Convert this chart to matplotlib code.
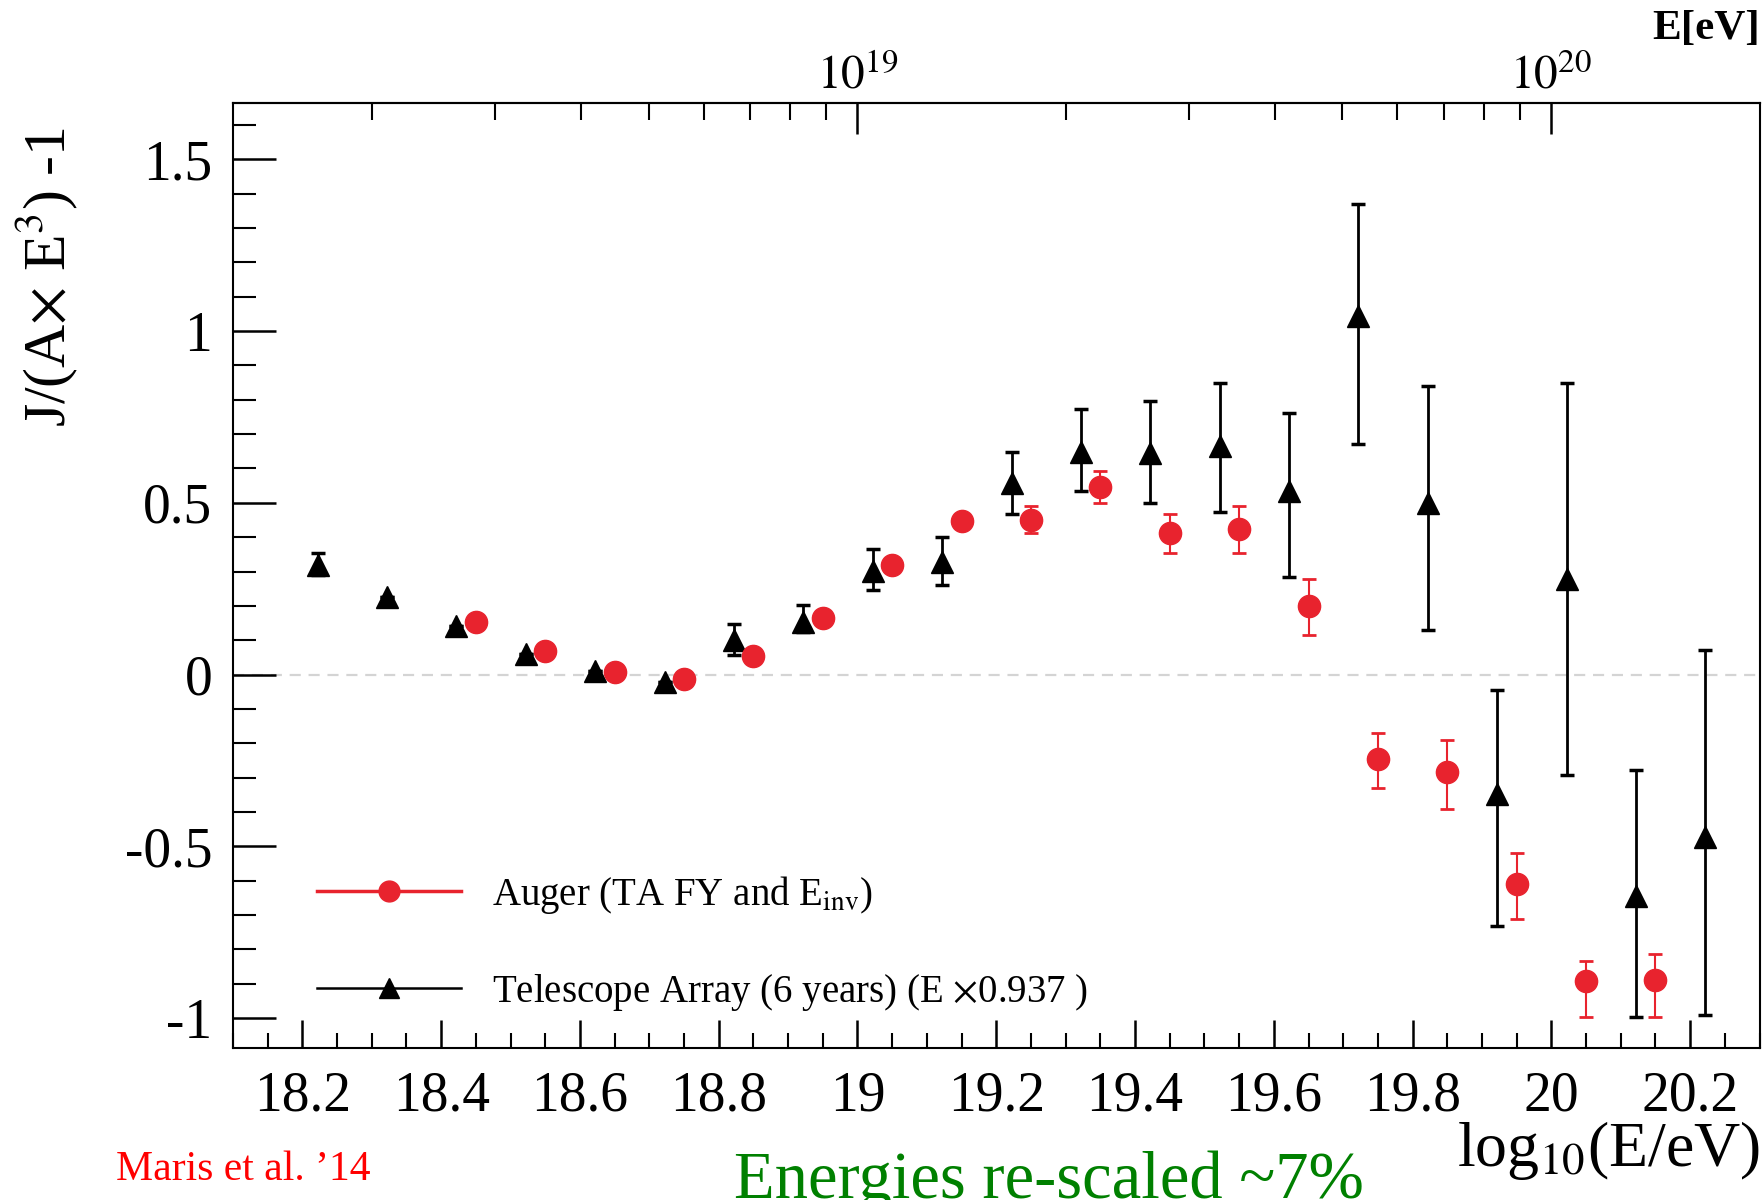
import numpy as np
import matplotlib.pyplot as plt
from matplotlib.lines import Line2D
from matplotlib.ticker import MultipleLocator, FixedLocator, FuncFormatter

plt.rcParams['font.family'] = ['Liberation Serif', 'DejaVu Serif']
plt.rcParams['mathtext.fontset'] = 'stix'
plt.rcParams['axes.unicode_minus'] = False

# Telescope Array (6 years), energies scaled by 0.937
ta_x = [18.222, 18.322, 18.422, 18.522, 18.622, 18.722, 18.822, 18.922, 19.022, 19.122, 19.222,
        19.322, 19.422, 19.522, 19.622, 19.722, 19.822, 19.922, 20.022, 20.122, 20.222]
ta_y = [0.319, 0.226, 0.141, 0.059, 0.011, -0.021, 0.102, 0.153, 0.302, 0.328, 0.557,
        0.649, 0.645, 0.664, 0.533, 1.043, 0.499, -0.347, 0.279, -0.644, -0.474]
ta_err_lo = [0.03, 0.0, 0.0, 0.0, 0.0, 0.0, 0.045, 0.03, 0.055, 0.066, 0.09,
             0.116, 0.146, 0.19, 0.248, 0.371, 0.368, 0.384, 0.571, 0.352, 0.517]
ta_err_hi = [0.035, 0.0, 0.0, 0.0, 0.0, 0.0, 0.045, 0.049, 0.063, 0.072, 0.092,
             0.124, 0.152, 0.185, 0.228, 0.326, 0.34, 0.303, 0.57, 0.365, 0.545]

# Auger (TA FY and E_inv)
auger_x = [18.45, 18.55, 18.65, 18.75, 18.85, 18.95, 19.05, 19.15, 19.25,
           19.35, 19.45, 19.55, 19.65, 19.75, 19.85, 19.95, 20.05, 20.15]
auger_y = [0.153, 0.069, 0.007, -0.012, 0.054, 0.166, 0.319, 0.447, 0.45,
           0.545, 0.411, 0.423, 0.199, -0.245, -0.284, -0.611, -0.892, -0.889]
auger_err_lo = [0.02, 0.02, 0.02, 0.02, 0.02, 0.02, 0.02, 0.02, 0.039,
                0.046, 0.058, 0.07, 0.084, 0.085, 0.107, 0.101, 0.104, 0.107]
auger_err_hi = [0.02, 0.02, 0.02, 0.02, 0.02, 0.02, 0.02, 0.02, 0.041,
                0.047, 0.057, 0.068, 0.079, 0.076, 0.094, 0.091, 0.059, 0.075]

# top axis: energies in eV
top_major_E = [1e19, 1e20]
top_major_labels = [r'$10^{19}$', r'$10^{20}$']
top_minor_E = [2e18, 3e18, 4e18, 5e18, 6e18, 7e18, 8e18, 9e18,
               2e19, 3e19, 4e19, 5e19, 6e19, 7e19, 8e19, 9e19]

red = '#e8232e'

fig = plt.figure(figsize=(17.65, 12), dpi=100)
ax = fig.add_axes([0.132, 0.1267, 0.8649, 0.7875])
ax.set_xlim(18.1, 20.3)
ax.set_ylim(-1.087, 1.664)

ax.axhline(0, color='#d4d4d4', lw=1.6, ls=(0, (5, 3.5)), zorder=0)

ax.errorbar(ta_x, ta_y, yerr=[ta_err_lo, ta_err_hi], fmt='^', color='black', ms=16,
            elinewidth=2, capsize=5, capthick=2.5, zorder=3)
ax.errorbar(auger_x, auger_y, yerr=[auger_err_lo, auger_err_hi], fmt='o', color=red, ms=16,
            elinewidth=1.5, capsize=5, capthick=2, zorder=4)

fmt = FuncFormatter(lambda v, p: f'{round(v, 2) + 0.0:g}')
ax.xaxis.set_major_locator(MultipleLocator(0.2))
ax.xaxis.set_minor_locator(MultipleLocator(0.05))
ax.xaxis.set_major_formatter(fmt)
ax.yaxis.set_major_locator(MultipleLocator(0.5))
ax.yaxis.set_minor_locator(MultipleLocator(0.1))
ax.yaxis.set_major_formatter(fmt)

ax.tick_params(axis='x', which='both', direction='in', top=False, bottom=True, labelsize=40, pad=16)
ax.tick_params(axis='x', which='major', length=20, width=1.8)
ax.tick_params(axis='x', which='minor', length=11, width=1.5)
ax.tick_params(axis='y', which='both', direction='in', left=True, right=False, labelsize=40, pad=15)
ax.tick_params(axis='y', which='major', length=31, width=1.8)
ax.tick_params(axis='y', which='minor', length=16.5, width=1.5)
for s in ax.spines.values():
    s.set_linewidth(1.5)

sec = ax.secondary_xaxis('top')
sec.set_xticks(np.log10(top_major_E), labels=top_major_labels)
sec.xaxis.set_minor_locator(FixedLocator(np.log10(top_minor_E)))
sec.tick_params(axis='x', which='both', direction='in', labelsize=34, pad=3)
sec.tick_params(axis='x', which='major', length=22, width=1.8)
sec.tick_params(axis='x', which='minor', length=12, width=1.5)
sec.spines['top'].set_linewidth(1.5)

handles = [Line2D([], [], color=red, lw=2.5, marker='o', ms=15),
           Line2D([], [], color='black', lw=1.8, marker='^', ms=14)]
labels = [r'Auger (TA FY and E$_{\mathrm{inv}}$)',
          r'Telescope Array (6 years) (E $\times$0.937 )']
fig.legend(handles, labels, loc='upper left', bbox_to_anchor=(0.1796, 0.272), frameon=False,
           fontsize=28, handlelength=3.7, handletextpad=0.8, labelspacing=1.45,
           borderpad=0, borderaxespad=0)

fig.text(0.997, 0.992, 'E[eV]', ha='right', va='top', fontsize=31, fontweight='bold')
fig.text(0.997, 0.028, r'log$_{10}$(E/eV)', ha='right', va='baseline', fontsize=46)
fig.text(0.026, 0.769, r'J/(A$\times$ E$^{3}$) -1', rotation=90, ha='center', va='center', fontsize=43)
fig.text(0.0657, 0.0167, 'Maris et al. \u201914', color='red', fontsize=30, va='baseline')
fig.text(0.416, 0.002, 'Energies re-scaled ~7%', color='#008000', fontsize=48, va='baseline')

fig.savefig('out.png', dpi=100)
